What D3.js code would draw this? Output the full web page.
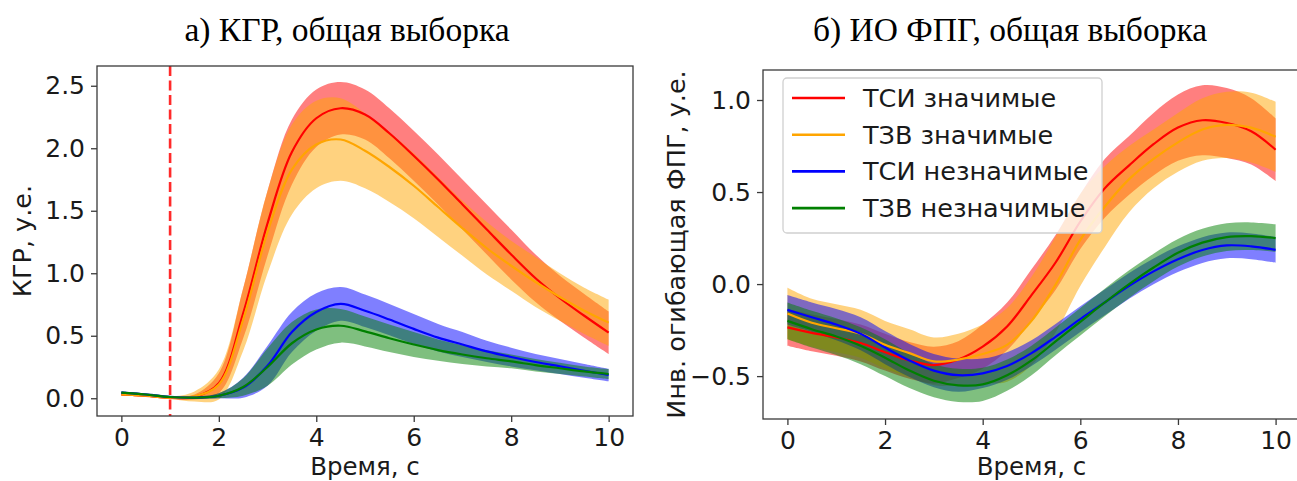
<!DOCTYPE html>
<html>
<head>
<meta charset="utf-8">
<script src="https://cdn.jsdelivr.net/npm/d3@7"></script>
<style>
  body { margin: 0; background: #fff; overflow: hidden; }
  svg { display: block; }
</style>
</head>
<body>
<svg id="chart" width="1297" height="481"></svg>
<script>
// Time axis, seconds
const time = [0, 0.5, 1, 1.5, 2, 2.5, 3, 3.5, 4, 4.5, 5, 5.5, 6, 6.5, 7, 7.5, 8, 8.5, 9, 9.5, 10];

// Series names (legend)
const seriesNames = ["ТСИ значимые", "ТЗВ значимые", "ТСИ незначимые", "ТЗВ незначимые"];
const seriesColors = ["#ff0000", "#ffa500", "#0000ff", "#008000"];

// a) КГР: mean and spread per series
const kgrTsiSig      = [0.03, 0.02, 0.005, 0.01, 0.12, 0.68, 1.40, 1.97, 2.24, 2.32, 2.27, 2.12, 1.94, 1.75, 1.55, 1.35, 1.15, 0.96, 0.80, 0.66, 0.525];
const kgrTsiSigSd    = [0.01, 0.01, 0.01, 0.02, 0.08, 0.20, 0.26, 0.26, 0.23, 0.21, 0.20, 0.20, 0.20, 0.20, 0.20, 0.20, 0.20, 0.19, 0.18, 0.175, 0.17];
const kgrTzvSig      = [0.03, 0.02, 0.005, 0.015, 0.11, 0.63, 1.33, 1.83, 2.03, 2.07, 1.98, 1.85, 1.70, 1.53, 1.36, 1.20, 1.06, 0.93, 0.81, 0.70, 0.605];
const kgrTzvSigSd    = [0.01, 0.01, 0.01, 0.04, 0.12, 0.25, 0.33, 0.36, 0.35, 0.33, 0.30, 0.28, 0.26, 0.24, 0.22, 0.21, 0.20, 0.20, 0.19, 0.185, 0.185];
const kgrTsiNonSig   = [0.045, 0.03, 0.01, 0.005, 0.02, 0.085, 0.26, 0.53, 0.69, 0.755, 0.70, 0.63, 0.555, 0.485, 0.43, 0.375, 0.33, 0.29, 0.255, 0.22, 0.186];
const kgrTsiNonSigSd = [0.01, 0.01, 0.01, 0.01, 0.02, 0.08, 0.16, 0.16, 0.15, 0.135, 0.13, 0.125, 0.12, 0.11, 0.10, 0.085, 0.075, 0.065, 0.06, 0.055, 0.05];
const kgrTzvNonSig   = [0.045, 0.03, 0.01, 0.005, 0.02, 0.09, 0.25, 0.44, 0.55, 0.58, 0.535, 0.48, 0.43, 0.385, 0.35, 0.32, 0.295, 0.265, 0.24, 0.215, 0.194];
const kgrTzvNonSigSd = [0.01, 0.01, 0.01, 0.01, 0.02, 0.07, 0.15, 0.17, 0.16, 0.135, 0.12, 0.11, 0.10, 0.085, 0.075, 0.065, 0.055, 0.05, 0.045, 0.04, 0.04];

// б) ИО ФПГ: mean and spread per series
const fpgTsiSig      = [-0.235, -0.265, -0.29, -0.32, -0.37, -0.415, -0.44, -0.41, -0.34, -0.23, -0.06, 0.12, 0.34, 0.52, 0.645, 0.76, 0.85, 0.89, 0.875, 0.83, 0.73];
const fpgTsiSigSd    = [0.10, 0.10, 0.10, 0.10, 0.10, 0.10, 0.10, 0.10, 0.12, 0.13, 0.14, 0.15, 0.15, 0.16, 0.16, 0.17, 0.18, 0.19, 0.19, 0.18, 0.17];
const fpgTzvSig      = [-0.16, -0.21, -0.24, -0.27, -0.33, -0.375, -0.42, -0.41, -0.38, -0.33, -0.20, 0.0, 0.24, 0.42, 0.57, 0.68, 0.77, 0.84, 0.865, 0.85, 0.80];
const fpgTzvSigSd    = [0.14, 0.13, 0.13, 0.13, 0.13, 0.13, 0.13, 0.14, 0.16, 0.20, 0.24, 0.26, 0.25, 0.22, 0.18, 0.16, 0.16, 0.17, 0.18, 0.19, 0.19];
const fpgTsiNonSig   = [-0.14, -0.18, -0.22, -0.27, -0.345, -0.415, -0.47, -0.495, -0.485, -0.445, -0.375, -0.285, -0.19, -0.10, -0.01, 0.069, 0.135, 0.185, 0.21, 0.205, 0.186];
const fpgTsiNonSigSd = [0.08, 0.08, 0.085, 0.09, 0.09, 0.09, 0.09, 0.09, 0.08, 0.075, 0.07, 0.07, 0.07, 0.07, 0.07, 0.07, 0.07, 0.07, 0.07, 0.07, 0.07];
const fpgTzvNonSig   = [-0.20, -0.245, -0.285, -0.335, -0.40, -0.47, -0.525, -0.55, -0.545, -0.495, -0.415, -0.31, -0.205, -0.10, 0.0, 0.09, 0.17, 0.225, 0.255, 0.26, 0.25];
const fpgTzvNonSigSd = [0.10, 0.10, 0.10, 0.10, 0.10, 0.095, 0.09, 0.09, 0.09, 0.085, 0.08, 0.075, 0.075, 0.075, 0.075, 0.075, 0.075, 0.075, 0.075, 0.075, 0.075];

// Tick values
const xTicks = [0, 2, 4, 6, 8, 10];
const kgrYTicks = [0.0, 0.5, 1.0, 1.5, 2.0, 2.5];
const fpgYTicks = [-0.5, 0.0, 0.5, 1.0];

// Stimulus onset marker on panel a)
const stimulusTime = 1;

const svg = d3.select("#chart");
const FONT = "'DejaVu Sans', sans-serif";
const TICK_FS = 25;
const LABEL_FS = 24.5;
const LEGEND_FS = 25.5;

function panel(opts) {
  const { box, xDomain, yDomain, means, sds, yTicks, yLabel, title, titleX, clipId } = opts;
  const x = d3.scaleLinear().domain(xDomain).range([box.x0, box.x1]);
  const y = d3.scaleLinear().domain(yDomain).range([box.y1, box.y0]);
  const g = svg.append("g");

  g.append("clipPath").attr("id", clipId)
    .append("rect").attr("x", box.x0).attr("y", box.y0)
    .attr("width", box.x1 - box.x0).attr("height", box.y1 - box.y0);

  const plot = g.append("g").attr("clip-path", `url(#${clipId})`);
  const curve = d3.curveCatmullRom.alpha(0.5);

  // spread bands first, lines on top
  means.forEach((m, i) => {
    const rows = time.map((t, k) => ({ t, lo: m[k] - sds[i][k], hi: m[k] + sds[i][k] }));
    plot.append("path").datum(rows)
      .attr("fill", seriesColors[i]).attr("fill-opacity", 0.5)
      .attr("d", d3.area().curve(curve)
        .x(d => x(d.t)).y0(d => y(d.lo)).y1(d => y(d.hi)));
  });
  means.forEach((m, i) => {
    const rows = time.map((t, k) => ({ t, v: m[k] }));
    plot.append("path").datum(rows)
      .attr("fill", "none").attr("stroke", seriesColors[i]).attr("stroke-width", 2.2)
      .attr("d", d3.line().curve(curve).x(d => x(d.t)).y(d => y(d.v)));
  });

  // frame
  g.append("rect").attr("x", box.x0).attr("y", box.y0)
    .attr("width", box.x1 - box.x0).attr("height", box.y1 - box.y0)
    .attr("fill", "none").attr("stroke", "#3a3a3a").attr("stroke-width", 1.3);

  const fmt = v => (v < 0 ? "\u2212" : "") + Math.abs(v).toFixed(1);

  const xAxis = d3.axisBottom(x).tickValues(xTicks).tickSize(6).tickPadding(6).tickFormat(d3.format("d"));
  const xg = g.append("g").attr("transform", `translate(0,${box.y1})`).call(xAxis);
  const yAxis = d3.axisLeft(y).tickValues(yTicks).tickSize(6).tickPadding(6).tickFormat(fmt);
  const yg = g.append("g").attr("transform", `translate(${box.x0},0)`).call(yAxis);
  [xg, yg].forEach(a => {
    a.select(".domain").remove();
    a.selectAll(".tick line").attr("stroke", "#3a3a3a").attr("stroke-width", 1.3);
    a.selectAll(".tick text").attr("fill", "#1a1a1a").style("font-family", FONT).style("font-size", TICK_FS + "px");
  });

  g.append("text").attr("x", (box.x0 + Math.min(box.x1, 1300)) / 2).attr("y", 475)
    .attr("text-anchor", "middle").attr("fill", "#1a1a1a")
    .style("font-family", FONT).style("font-size", LABEL_FS + "px").text("Время, с");

  g.append("text")
    .attr("transform", `translate(${opts.yLabelX},${(box.y0 + box.y1) / 2}) rotate(-90)`)
    .attr("text-anchor", "middle").attr("dy", "0.35em").attr("fill", "#1a1a1a")
    .style("font-family", FONT).style("font-size", "25.5px").text(yLabel);

  g.append("text").attr("x", titleX).attr("y", 41).attr("text-anchor", "middle")
    .attr("fill", "#000").style("font-family", "'Liberation Serif', 'Times New Roman', serif")
    .style("font-size", "33.5px").text(title);

  return { g, x, y, plot };
}

// a) КГР
const left = panel({
  box: { x0: 97, x1: 633, y0: 66, y1: 416 },
  xDomain: [-0.5, 10.5], yDomain: [-0.142, 2.658],
  means: [kgrTsiSig, kgrTzvSig, kgrTsiNonSig, kgrTzvNonSig],
  sds: [kgrTsiSigSd, kgrTzvSigSd, kgrTsiNonSigSd, kgrTzvNonSigSd],
  yTicks: kgrYTicks, yLabel: "КГР, у.е.", yLabelX: 22,
  title: "а) КГР, общая выборка", titleX: 347, clipId: "clipA"
});
left.plot.append("line")
  .attr("x1", left.x(stimulusTime)).attr("x2", left.x(stimulusTime))
  .attr("y1", 66).attr("y2", 416)
  .attr("stroke", "#ff2a2a").attr("stroke-width", 2.6)
  .attr("stroke-dasharray", "10,4.5");

// б) ИО ФПГ
const right = panel({
  box: { x0: 763, x1: 1300, y0: 70, y1: 419 },
  xDomain: [-0.5, 10.5], yDomain: [-0.733, 1.163],
  means: [fpgTsiSig, fpgTzvSig, fpgTsiNonSig, fpgTzvNonSig],
  sds: [fpgTsiSigSd, fpgTzvSigSd, fpgTsiNonSigSd, fpgTzvNonSigSd],
  yTicks: fpgYTicks, yLabel: "Инв. огибающая ФПГ, у.е.", yLabelX: 676,
  title: "б) ИО ФПГ, общая выборка", titleX: 1010, clipId: "clipB"
});

// legend
const lg = svg.append("g");
lg.append("rect").attr("x", 783).attr("y", 78).attr("width", 319).attr("height", 155)
  .attr("rx", 4).attr("fill", "#fff").attr("fill-opacity", 0.8)
  .attr("stroke", "#d0d0d0").attr("stroke-width", 1.3);
seriesNames.forEach((name, i) => {
  const cy = 98 + i * 36.7;
  lg.append("line").attr("x1", 792).attr("x2", 845).attr("y1", cy).attr("y2", cy)
    .attr("stroke", seriesColors[i]).attr("stroke-width", 2.6);
  lg.append("text").attr("x", 863).attr("y", cy).attr("dy", "0.35em")
    .attr("fill", "#1a1a1a").style("font-family", FONT).style("font-size", LEGEND_FS + "px").text(name);
});
</script>
</body>
</html>
